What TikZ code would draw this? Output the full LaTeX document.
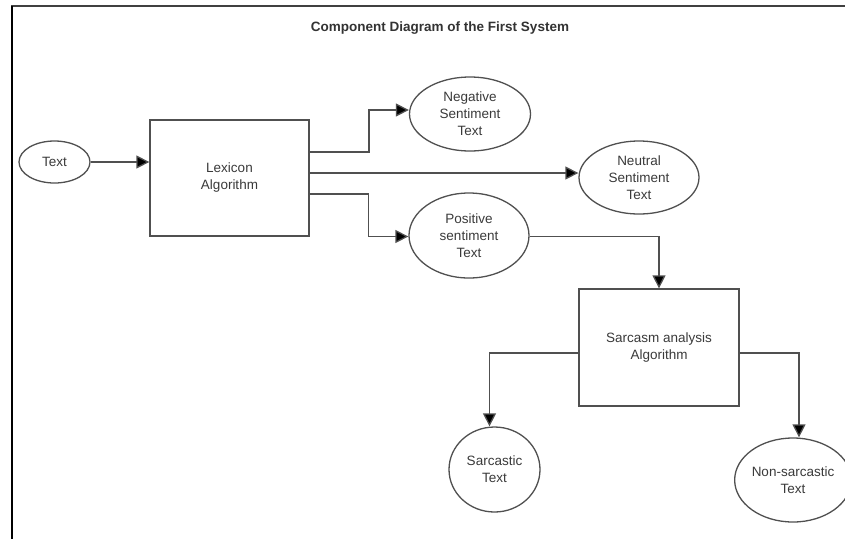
\documentclass[tikz,border=0pt]{standalone}
\usepackage{fontspec}
\setmainfont{Liberation Sans}
\usetikzlibrary{arrows.meta,calc,shapes.geometric}
\definecolor{ln}{HTML}{505050}
\definecolor{tx}{HTML}{3A3A3A}
\tikzset{
  comp/.style={draw=ln, line width=1.3pt, ellipse, inner sep=0pt, align=center, text=tx,
    font=\fontsize{13.5}{17}\selectfont},
  procbox/.style={draw=ln, line width=1.3pt, rectangle, inner sep=0pt, align=center, text=tx,
    font=\fontsize{13.5}{17}\selectfont},
  conn/.style={draw=ln, line width=1.3pt, -{Triangle[length=13pt,width=13pt,fill=black]}},
}
\begin{document}
\begin{tikzpicture}[x=1pt,y=-1pt]
\useasboundingbox (0,0) rectangle (845,539);
\fill[white] (0,0) rectangle (845,539);
% frame
\draw[line width=2pt, color=black!75] (11,6) -- (845,6);
\draw[line width=2.5pt, color=black] (12,6) -- (12,539);
% title
\node[font=\bfseries\fontsize{13.5}{16}\selectfont, text=black!80] (title) at (440,28) {Component Diagram of the First System};
% nodes
\node[comp, minimum width=71pt, minimum height=42pt] (txt) at (54.5,162) {Text};
\node[procbox, minimum width=159pt, minimum height=116pt] (lex) at (229.5,178) {Lexicon\\Algorithm};
\node[comp, minimum width=121pt, minimum height=74pt] (neg) at (470,114) {Negative\\Sentiment\\Text};
\node[comp, minimum width=120pt, minimum height=73pt] (neu) at (639,177.5) {Neutral\\Sentiment\\Text};
\node[comp, minimum width=120pt, minimum height=85pt] (pos) at (469,235.5) {Positive\\sentiment\\Text};
\node[procbox, minimum width=160pt, minimum height=117pt] (sarc) at (659,347.5) {Sarcasm analysis\\Algorithm};
\node[comp, minimum width=91pt, minimum height=85pt] (sarcastic) at (494.5,469.5) {Sarcastic\\Text};
\node[comp, minimum width=108pt, minimum height=84pt] (nonsarc) at (793,480) {Non-sarcastic\\Text};
% connector end points
\coordinate (negin) at ($(neg.west)+(0,-4)$);
\coordinate (neuin) at ($(neu.west)+(0,-4.5)$);
\coordinate (posin) at ($(pos.west)+(0,1)$);
% connectors
\draw[conn] (txt.east) -- (txt.east -| lex.west);
\draw[conn] ($(lex.east)+(0,-26)$) -| ($(negin)+(-40,0)$) -- (negin);
\draw[conn] (neuin -| lex.east) -- (neuin);
\draw[conn] ($(lex.east)+(0,16)$) -| ($(posin)+(-40,0)$) -- (posin);
\draw[conn] ($(pos.east)+(0,1)$) -| (sarc.north);
\draw[conn] ($(sarc.west)+(0,5.5)$) -| ($(sarcastic.north)+(-5,0)$);
\draw[conn] ($(sarc.east)+(0,5.5)$) -| ($(nonsarc.north)+(6,0)$);
\end{tikzpicture}
\end{document}
